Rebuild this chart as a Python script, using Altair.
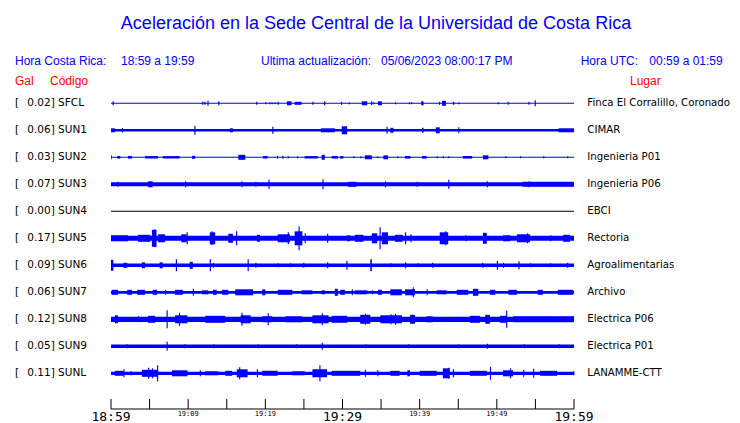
import altair as alt
import pandas as pd

# ---------------- data ----------------
stations = ["SFCL", "SUN1", "SUN2", "SUN3", "SUN4", "SUN5", "SUN6", "SUN7", "SUN8", "SUN9", "SUNL"]
gal = [0.02, 0.06, 0.03, 0.07, 0.00, 0.17, 0.09, 0.06, 0.12, 0.05, 0.11]
places = ["Finca El Corralillo, Coronado", "CIMAR", "Ingenieria P01", "Ingenieria P06", "EBCI",
          "Rectoria", "Agroalimentarias", "Archivo", "Electrica P06", "Electrica P01", "LANAMME-CTT"]
# typical half-amplitude of the trace background (relative units)
base_amp = [0.5, 1.3, 0.5, 2.0, 0.5, 2.5, 1.7, 1.4, 2.6, 1.7, 1.6]

# events: (minute, amp) for a spike, (start_min, end_min, amp) for a burst; minutes after 18:59
ev_sfcl = [(0.2, 2), (11.8, 1.5), (12.1, 1.5), (12.5, 2.5), (13.9, 2), (18.8, 1.5), (20.0, 1), (20.5, 1),
           (20.8, 1), (21.2, 1), (21.6, 1.5), (22.8, 23.4, 2), (23.8, 24.7, 1.5), (26.1, 1.5), (27.6, 2),
           (29.8, 1.5), (30.8, 1), (32.5, 33.2, 2), (33.7, 2), (34.0, 1), (34.6, 35.1, 2), (36.8, 1),
           (38.6, 1), (38.9, 1), (40.2, 40.5, 2), (42.5, 1.5), (42.9, 43.4, 2.5), (44.3, 44.5, 1.5),
           (45.0, 1), (50.1, 1), (51.4, 1.5), (54.1, 1.5), (54.9, 3)]
ev_sun1 = [(0.0, 0.5, 2), (1.4, 2.2), (10.8, 4.5), (15.4, 15.8, 2), (20.9, 3.5), (27.2, 29.0, 2),
           (29.9, 30.6, 4), (35.7, 3.5), (36.2, 36.6, 2.5), (40.3, 40.5, 2.5), (42.1, 42.6, 3),
           (45.0, 3), (58.0, 60.0, 2)]
ev_sun2 = [(0.0, 0.1, 2), (0.8, 1.2, 1.3), (2.2, 2.7, 1.3), (4.4, 6.1, 1.2), (6.7, 8.9, 1.2),
           (10.5, 10.9, 1.5), (16.5, 17.4, 2.5), (19.7, 20.3, 1.3), (21.5, 1.5), (22.2, 1.5), (22.9, 1),
           (24.1, 1), (25.1, 26.8, 1.2), (27.3, 27.7, 2.5), (28.6, 29.4, 1.3), (29.7, 30.1, 1.3),
           (31.4, 1), (32.3, 1), (32.9, 33.8, 2), (34.5, 1), (35.3, 35.9, 2), (37.1, 1), (38.1, 38.8, 1.3),
           (40.3, 40.9, 1.3), (42.2, 1), (43.0, 1), (43.7, 1), (45.6, 46.8, 1.3), (48.2, 48.9, 2),
           (51.1, 1), (53.0, 1), (56.0, 1), (59.1, 1)]
ev_sun3 = [(0.8, 2.5), (4.8, 5.4, 3), (9.6, 3), (16.9, 3), (18.7, 2.5), (20.4, 4.5), (27.4, 5),
           (30.7, 31.8, 2.5), (35.5, 3), (39.6, 2.5), (43.7, 4.5), (48.7, 3), (53.3, 60.0, 2.5), (54.1, 3)]
ev_sun4 = []
ev_sun5 = [(0.0, 2.2, 3), (3.5, 5.1, 3.5), (5.3, 5.9, 8.5), (5.6, 9), (6.1, 7.0, 4), (9.1, 9.8, 4), (9.8, 6),
           (12.8, 13.5, 6), (13.0, 7), (15.2, 15.8, 4.5), (16.2, 7), (18.9, 19.3, 3.5), (21.6, 23.2, 4),
           (22.9, 6), (23.8, 24.8, 7), (24.3, 12), (25.1, 5), (28.0, 4.5), (30.6, 31.0, 3),
           (31.6, 32.7, 3.5), (33.8, 34.5, 5), (34.8, 11), (35.1, 35.9, 6), (36.8, 37.8, 3.5), (38.1, 6),
           (38.8, 4), (42.6, 43.7, 6), (43.3, 7), (45.9, 3), (48.2, 48.7, 5.5), (50.8, 51.7, 3),
           (52.6, 54.3, 4), (53.9, 5), (56.9, 3), (58.6, 59.5, 3.5)]
ev_sun6 = [(0.0, 0.3, 5.5), (1.6, 2.1, 2.5), (4.0, 4.4, 3), (6.3, 6.7, 3), (8.4, 6), (10.2, 10.6, 3.5),
           (12.8, 6), (13.2, 2.5), (17.7, 6), (18.7, 2.5), (21.6, 2), (23.2, 2), (24.9, 2.5), (28.0, 3),
           (30.5, 4.5), (33.6, 33.8, 6), (36.2, 2), (38.1, 3), (39.7, 2), (41.6, 2.5), (48.1, 2.5),
           (50.0, 4.5), (50.8, 2.5), (52.8, 4), (54.3, 2), (56.9, 2), (59.1, 2.5)]
ev_sun7 = [(0.1, 0.9, 2.5), (2.1, 2.7, 2.5), (3.4, 4.4, 2.5), (5.4, 5.96, 2.5), (7.0, 2.5), (8.3, 9.3, 2.5),
           (10.6, 3.5), (11.8, 12.6, 2), (13.2, 13.7, 2.5), (14.4, 15.2, 2.5), (16.1, 18.4, 3),
           (19.6, 20.0, 3), (21.6, 23.5, 2.5), (24.7, 26.1, 2), (27.3, 27.7, 2), (29.0, 29.4, 3.5),
           (29.7, 30.3, 2.5), (31.2, 3), (31.6, 33.2, 2), (33.8, 2), (34.6, 35.1, 2.5), (36.2, 37.7, 3),
           (38.1, 39.4, 3), (39.1, 5), (40.9, 3), (42.2, 43.5, 2), (44.8, 46.3, 2.5), (46.9, 47.6, 3.5),
           (49.1, 49.8, 2.5), (51.5, 52.6, 2.5), (55.3, 55.96, 2.5), (57.9, 59.9, 2.5)]
ev_sun8 = [(0.5, 0.9, 4), (3.5, 3), (4.8, 5.7, 3.5), (7.2, 9), (8.3, 9.9, 4), (8.8, 6.5), (12.2, 14.8, 3.5),
           (16.8, 18.1, 4), (16.9, 6.5), (19.6, 20.9, 3), (20.3, 6), (22.6, 24.8, 3), (26.1, 28.2, 4),
           (27.3, 6), (28.6, 30.6, 3.5), (32.3, 33.6, 4.5), (32.9, 5.5), (34.9, 37.7, 4), (36.2, 5),
           (36.8, 5.5), (38.75, 39.4, 4.5), (40.9, 41.7, 3), (46.5, 47.8, 3.5), (48.5, 49.1, 4.5),
           (50.4, 51.3, 3.5), (51.2, 8.5), (52.1, 60.0, 3)]
ev_sun9 = [(2.0, 2), (7.2, 4.5), (9.5, 2), (13.3, 2), (19.0, 2), (24.0, 2), (27.3, 3.5), (33.0, 2),
           (38.5, 2), (45.0, 2), (48.7, 2.5), (53.5, 2), (58.0, 2)]
ev_sunl = [(0.5, 1.6, 2.5), (1.6, 4), (2.5, 2.7, 2), (4.0, 6.1, 3.5), (4.8, 5.5), (5.3, 5), (5.96, 8),
           (7.9, 9.9, 3), (11.5, 3), (12.2, 13.9, 2), (14.8, 15.7, 2.5), (16.3, 17.7, 4), (16.6, 6),
           (18.9, 4), (19.6, 21.6, 2.5), (23.5, 25.1, 2), (26.1, 28.0, 4), (27.0, 8), (28.6, 32.3, 2.5),
           (32.9, 3.5), (34.5, 3), (36.2, 37.4, 2.5), (38.4, 38.75, 3), (40.0, 42.2, 2.5),
           (43.0, 43.9, 5), (43.7, 5.5), (44.3, 4), (46.5, 48.7, 2.5), (49.1, 6.5), (50.8, 52.1, 3),
           (51.7, 5), (53.4, 3.5), (54.7, 4.5), (55.6, 57.8, 2.5), (59.9, 2)]
events = [ev_sfcl, ev_sun1, ev_sun2, ev_sun3, ev_sun4, ev_sun5, ev_sun6, ev_sun7, ev_sun8, ev_sun9, ev_sunl]

tick_minutes = [0, 5, 10, 15, 20, 25, 30, 35, 40, 45, 50, 55, 60]
major_minutes = [0, 30, 60]
major_labels = ["18:59", "19:29", "19:59"]
minor_minutes = [10, 20, 40, 50]
minor_labels = ["19:09", "19:19", "19:39", "19:49"]

title_text = "Aceleración en la Sede Central de la Universidad de Costa Rica"
hora_cr = ["Hora Costa Rica:", "18:59 a 19:59"]
update_text = ["Ultima actualización:", "05/06/2023 08:00:17 PM"]
hora_utc = ["Hora UTC:", "00:59 a 01:59"]

# ---------------- tables ----------------
ROW_PX = 27.0
SPIKE_W = 0.15
base_rows = []
for i, (s, b) in enumerate(zip(stations, base_amp)):
    base_rows.append({"station": s, "gal": gal[i], "t0": 0.0, "t1": 60.0,
                      "y0": i - b / ROW_PX, "y1": i + b / ROW_PX})
base_df = pd.DataFrame(base_rows)

ev_rows = []
for i, evs in enumerate(events):
    for e in evs:
        if len(e) == 2:
            t0, t1, a = e[0], e[0] + SPIKE_W, e[1]
        else:
            t0, t1, a = e
        ev_rows.append({"station": stations[i], "t0": t0, "t1": t1,
                        "y0": i - a / ROW_PX, "y1": i + a / ROW_PX})
ev_df = pd.DataFrame(ev_rows)

lab_df = pd.DataFrame({"row": list(range(len(stations))),
                       "left": [f"{g:.2f}] {s}" for g, s in zip(gal, stations)],
                       "bracket": ["["] * len(stations),
                       "place": places})

xs = alt.Scale(domain=[0, 60], range=[103, 566])
ys = alt.Scale(domain=[0, 10], range=[95.3, 365.3])
X = lambda f: alt.X(f, type="quantitative", scale=xs, axis=None)
Y = lambda f: alt.Y(f, type="quantitative", scale=ys, axis=None)

BLUE = "#0000ff"
RED = "#ff0000"
SANS = "Liberation Sans"
DJ = "DejaVu Sans"

baseline = alt.Chart(base_df).mark_rect().encode(
    x=X("t0"), x2="t1", y=Y("y0"), y2="y1",
    color=alt.condition(alt.datum.gal == 0, alt.value("#000000"), alt.value(BLUE)))
bursts = alt.Chart(ev_df).mark_rect(color=BLUE).encode(x=X("t0"), x2="t1", y=Y("y0"), y2="y1")

left_br = alt.Chart(lab_df).mark_text(align="left", baseline="middle", font=DJ, fontSize=10.5,
                                      color="black").encode(x=alt.value(7), y=Y("row"), text="bracket")
left_lab = alt.Chart(lab_df).mark_text(align="left", baseline="middle", font=DJ, fontSize=10.5,
                                       color="black").encode(x=alt.value(19.3), y=Y("row"), text="left")
right_lab = alt.Chart(lab_df).mark_text(align="left", baseline="middle", font=DJ, fontSize=10.2,
                                        color="black").encode(x=alt.value(579.3), y=Y("row"), text="place")


def txt(s, x, y, size=12, color=BLUE, align="left", font=SANS):
    return alt.Chart(pd.DataFrame({"t": [s]})).mark_text(
        align=align, baseline="middle", font=font, fontSize=size, color=color).encode(
        x=alt.value(x), y=alt.value(y), text="t")


header = [
    txt(title_text, 368, 15.5, size=18, align="center"),
    txt(hora_cr[0], 7, 52.7), txt(hora_cr[1], 113, 52.7),
    txt(update_text[0], 253, 52.7), txt(update_text[1], 373, 52.7),
    txt(hora_utc[0], 572.7, 52.7), txt(hora_utc[1], 641.3, 52.7),
    txt("Gal", 7, 72.7, color=RED), txt("Código", 42, 72.7, color=RED),
    txt("Lugar", 622, 72.7, color=RED),
]

axis_line = alt.Chart(pd.DataFrame({"a": [0], "b": [60]})).mark_rule(color="black", strokeWidth=1).encode(
    x=X("a"), x2="b", y=alt.value(401))
ticks = alt.Chart(pd.DataFrame({"m": tick_minutes})).mark_rule(color="black", strokeWidth=1).encode(
    x=X("m"), y=alt.value(391), y2=alt.value(401))
major = alt.Chart(pd.DataFrame({"m": major_minutes, "l": major_labels})).mark_text(
    align="center", baseline="middle", font="DejaVu Sans Mono", fontSize=13, color="black").encode(
    x=X("m"), y=alt.value(409), text="l")
minor = alt.Chart(pd.DataFrame({"m": minor_minutes, "l": minor_labels})).mark_text(
    align="center", baseline="middle", font="DejaVu Sans Mono", fontSize=7, color="black").encode(
    x=X("m"), y=alt.value(406), text="l")

chart = alt.layer(baseline, bursts, left_br, left_lab, right_lab, *header, axis_line, ticks, major, minor
                  ).properties(width=724, height=415, padding=0,
                               autosize=alt.AutoSizeParams(type="none")
                               ).configure_view(stroke=None)

chart.save("out.html", embed_options={"renderer": "svg", "actions": False})
